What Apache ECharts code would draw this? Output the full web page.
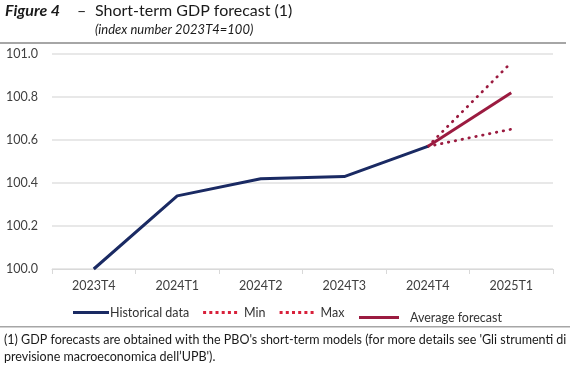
<!DOCTYPE html>
<html><head><meta charset="utf-8">
<script src="https://cdn.jsdelivr.net/npm/echarts@6/dist/echarts.min.js"></script>
<style>html,body{margin:0;padding:0;background:#fff}#c{width:570px;height:380px}</style>
</head><body><div id="c"></div>
<script>
const categories = ['2023T4','2024T1','2024T2','2024T3','2024T4','2025T1'];
const historical = [100.0, 100.34, 100.42, 100.43, 100.57, null];
const minSeries = [null, null, null, null, 100.57, 100.65];
const maxSeries = [null, null, null, null, 100.57, 100.96];
const avgForecast = [null, null, null, null, 100.57, 100.82];
const yTicks = {min: 100.0, max: 101.0, interval: 0.2};

const FONT = 'Lato';
const NAVY = '#1a2a63';
const CRIMSON = '#9b1b40';
const LEG_RED = '#d8203a';
const DOTS = 'path://M0,0h3v3h-3z M6.2,0h3v3h-3z M12.4,0h3v3h-3z M18.6,0h3v3h-3z M24.8,0h3v3h-3z M31,0h3v3h-3z';
const chart = echarts.init(document.getElementById('c'), null, {renderer: 'canvas'});
chart.setOption({
  animation: false,
  textStyle: {fontFamily: FONT},
  grid: {left: 52, right: 17, top: 54, bottom: 111, containLabel: false},
  xAxis: {
    type: 'category', data: categories, boundaryGap: true,
    axisLine: {lineStyle: {color: '#d9d9d9', width: 1}},
    axisTick: {show: true, length: 5, lineStyle: {color: '#d9d9d9'}},
    axisLabel: {color: '#404040', fontSize: 12.5, fontFamily: FONT, margin: 10}
  },
  yAxis: {
    type: 'value', min: yTicks.min, max: yTicks.max, interval: yTicks.interval,
    axisLine: {show: false}, axisTick: {show: false},
    splitLine: {lineStyle: {color: '#e0e0e0', width: 1.5}},
    axisLabel: {color: '#404040', fontSize: 12.5, fontFamily: FONT, margin: 14,
      formatter: v => v.toFixed(1)}
  },
  legend: [{
    left: 68, top: 301, itemGap: 14, itemWidth: 36, itemHeight: 3,
    textStyle: {color: '#333', fontSize: 12.5, fontFamily: FONT, padding: [0,0,0,-4]},
    data: [
      {name: 'Historical data', icon: 'rect', itemStyle: {color: NAVY}},
      {name: 'Min', icon: DOTS, itemStyle: {color: LEG_RED}, textStyle: {padding: [0,0,0,1]}},
      {name: 'Max', icon: DOTS, itemStyle: {color: LEG_RED}, textStyle: {padding: [0,0,0,1]}}
    ]
  }, {
    left: 354, top: 306, itemWidth: 40, itemHeight: 3, itemGap: 10,
    textStyle: {color: '#333', fontSize: 12.5, fontFamily: FONT, padding: [14,0,0,6]},
    data: [{name: 'Average forecast', icon: 'rect', itemStyle: {color: CRIMSON}}]
  }],
  series: [
    {name: 'Historical data', type: 'line', data: historical, symbol: 'none',
      lineStyle: {color: NAVY, width: 3}, itemStyle: {color: NAVY}, z: 3},
    {name: 'Min', type: 'line', data: minSeries, symbol: 'none',
      lineStyle: {color: CRIMSON, width: 2.8, type: [0.5, 6.5], cap: 'round'}, itemStyle: {color: LEG_RED}, z: 2},
    {name: 'Max', type: 'line', data: maxSeries, symbol: 'none',
      lineStyle: {color: CRIMSON, width: 2.8, type: [0.5, 6.5], cap: 'round'}, itemStyle: {color: LEG_RED}, z: 2},
    {name: 'Average forecast', type: 'line', data: avgForecast, symbol: 'none',
      lineStyle: {color: CRIMSON, width: 3}, itemStyle: {color: CRIMSON}, z: 4}
  ],
  graphic: [
    {type: 'text', left: 5, top: 3, style: {text: 'Figure 4', font: 'italic bold 16px ' + FONT, fill: '#1a1a1a'}},
    {type: 'text', left: 77, top: 3, style: {text: '–', font: '16px ' + FONT, fill: '#1a1a1a'}},
    {type: 'text', left: 95, top: 3, style: {text: 'Short-term GDP forecast (1)', font: '16px ' + FONT, fill: '#1a1a1a'}},
    {type: 'text', left: 95, top: 23, style: {text: '(index number 2023T4=100)', font: 'italic 13px ' + FONT, fill: '#1a1a1a'}},
    {type: 'rect', shape: {x: 0, y: 42, width: 566, height: 2}, style: {fill: '#a6a6a6'}},
    {type: 'rect', shape: {x: 0, y: 326, width: 570, height: 1.5}, style: {fill: '#a6a6a6'}},
    {type: 'text', left: 4, top: 333, style: {text: "(1) GDP forecasts are obtained with the PBO's short-term models (for more details see 'Gli strumenti di", font: '12.5px ' + FONT, fill: '#1a1a1a'}},
    {type: 'text', left: 4, top: 350, style: {text: "previsione macroeconomica dell’UPB').", font: '12.5px ' + FONT, fill: '#1a1a1a'}}
  ]
});
</script></body></html>
